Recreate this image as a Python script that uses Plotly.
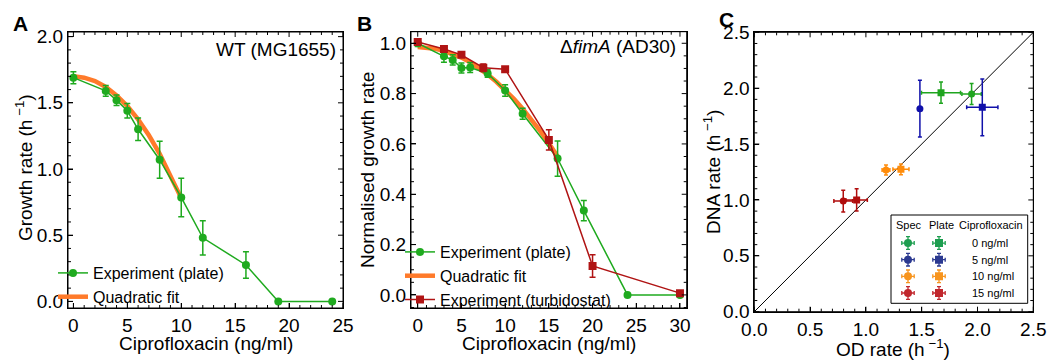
import math
import plotly.graph_objects as go

FONT = "Liberation Sans, Arial, Helvetica, sans-serif"
W, H = 1047, 362

# ---------------- Panel A: WT (MG1655) ----------------
a_conc = [0, 3, 4, 5, 6, 8, 10, 12, 16, 19, 24]
a_rate = [1.69, 1.59, 1.52, 1.44, 1.30, 1.07, 0.785, 0.48, 0.275, 0.0, 0.0]
a_err = [0.045, 0.04, 0.04, 0.055, 0.085, 0.14, 0.145, 0.13, 0.10, 0.0, 0.0]
a_fit_conc = [0, 1, 2, 3, 4, 5, 6, 7, 8, 9, 10]
a_fit_rate = [1.70, 1.69, 1.665, 1.62, 1.555, 1.475, 1.375, 1.255, 1.115, 0.955, 0.78]

# ---------------- Panel B: delta fimA (AD30) ----------------
b_conc = [0, 3, 4, 5, 6, 8, 10, 12, 16, 19, 24, 30]
b_rate = [1.0, 0.948, 0.934, 0.902, 0.904, 0.88, 0.812, 0.72, 0.542, 0.335, 0.0, 0.0]
b_err = [0.013, 0.023, 0.02, 0.02, 0.02, 0.015, 0.023, 0.022, 0.07, 0.04, 0.0, 0.0]
b_fit_conc = [0, 1, 2, 3, 4, 5, 6, 7, 8, 9, 10, 11, 12, 13, 14, 15, 16]
b_fit_rate = [0.985, 0.983, 0.978, 0.970, 0.958, 0.943, 0.924, 0.902, 0.876,
              0.847, 0.815, 0.779, 0.740, 0.698, 0.652, 0.603, 0.550]
b_turb_conc = [0, 3, 5, 7.5, 10, 15, 20, 30]
b_turb_rate = [1.005, 0.977, 0.954, 0.903, 0.897, 0.616, 0.115, 0.007]
b_turb_err = [0.01, 0.01, 0.01, 0.015, 0.01, 0.04, 0.045, 0.005]

# ---------------- Panel C: DNA rate vs OD rate ----------------
c_labels = ["0 ng/ml", "5 ng/ml", "10 ng/ml", "15 ng/ml"]
c_spec_od = [1.947, 1.484, 1.18, 0.797]
c_spec_od_err = [0.087, 0.0, 0.035, 0.084]
c_spec_dna = [1.948, 1.817, 1.268, 0.99]
c_spec_dna_err = [0.093, 0.254, 0.045, 0.097]
c_plate_od = [1.673, 2.043, 1.314, 0.917]
c_plate_od_err = [0.175, 0.14, 0.072, 0.096]
c_plate_dna = [1.96, 1.829, 1.274, 1.0]
c_plate_dna_err = [0.095, 0.254, 0.048, 0.10]
c_diag = [0, 2.5]
legend_cols = ["Spec", "Plate"]

GREEN = "#1faa1f"
ORANGE = "#ff7a2a"
DRED = "#b01414"
c_colors = ["#1fa51f", "#1010aa", "#ff8c0a", "#b00c0c"]
c_leg_colors = ["#1e9e50", "#2b3990", "#f7941d", "#c1272d"]

# axis ranges (shared by the axes and their frame ticks)
A_XR, A_YR = [-0.5, 25], [-0.05, 2.035]
B_XR, B_YR = [-0.77, 30.77], [-0.052, 1.046]
C_XR, C_YR = [0, 2.5], [0, 2.5]
# panel boxes in pixels: left, right, top, bottom
A_BOX = (68, 343, 32, 308)
B_BOX = (411, 686.7, 31.7, 308)
C_BOX = (754.3, 1033.3, 32.3, 311.7)

fig = go.Figure()

# --- A ---
fig.add_trace(go.Scatter(
    x=a_fit_conc, y=a_fit_rate, mode="lines", name="Quadratic fit",
    line=dict(color=ORANGE, width=4.5), xaxis="x", yaxis="y",
    legend="legend", legendrank=2))
fig.add_trace(go.Scatter(
    x=a_conc, y=a_rate, mode="lines+markers", name="Experiment (plate)",
    line=dict(color=GREEN, width=1.5), marker=dict(color=GREEN, size=8),
    error_y=dict(type="data", array=a_err, color=GREEN, thickness=1.5, width=3),
    xaxis="x", yaxis="y", legend="legend", legendrank=1))

# --- B ---
fig.add_trace(go.Scatter(
    x=b_fit_conc, y=b_fit_rate, mode="lines", name="Quadratic fit",
    line=dict(color=ORANGE, width=4.5), xaxis="x2", yaxis="y2",
    legend="legend2", legendrank=2))
fig.add_trace(go.Scatter(
    x=b_conc, y=b_rate, mode="lines+markers", name="Experiment (plate)",
    line=dict(color=GREEN, width=1.5), marker=dict(color=GREEN, size=8),
    error_y=dict(type="data", array=b_err, color=GREEN, thickness=1.5, width=3),
    xaxis="x2", yaxis="y2", legend="legend2", legendrank=1))
fig.add_trace(go.Scatter(
    x=b_turb_conc, y=b_turb_rate, mode="lines+markers", name="Experiment (turbidostat)",
    line=dict(color=DRED, width=1.5), marker=dict(color=DRED, size=8, symbol="square"),
    error_y=dict(type="data", array=b_turb_err, color=DRED, thickness=1.5, width=3),
    xaxis="x2", yaxis="y2", legend="legend2", legendrank=3))

# --- C ---
fig.add_trace(go.Scatter(
    x=c_diag, y=c_diag, mode="lines", line=dict(color="black", width=1),
    xaxis="x3", yaxis="y3", showlegend=False, hoverinfo="skip"))
for i in range(len(c_labels)):
    col = c_colors[i]
    fig.add_trace(go.Scatter(
        x=[c_spec_od[i]], y=[c_spec_dna[i]], mode="markers",
        marker=dict(color=col, size=7, symbol="circle"),
        error_x=dict(type="data", array=[c_spec_od_err[i]], color=col, thickness=1.5, width=2),
        error_y=dict(type="data", array=[c_spec_dna_err[i]], color=col, thickness=1.5, width=2),
        xaxis="x3", yaxis="y3", showlegend=False))
    fig.add_trace(go.Scatter(
        x=[c_plate_od[i]], y=[c_plate_dna[i]], mode="markers",
        marker=dict(color=col, size=7, symbol="square"),
        error_x=dict(type="data", array=[c_plate_od_err[i]], color=col, thickness=1.5, width=2),
        error_y=dict(type="data", array=[c_plate_dna_err[i]], color=col, thickness=1.5, width=2),
        xaxis="x3", yaxis="y3", showlegend=False))

# legend icons of panel C (on their own blank axes: column index x row index)
for i, lab in enumerate(c_labels):
    col = c_leg_colors[i]
    for j, kind in enumerate(legend_cols):
        fig.add_trace(go.Scatter(
            x=[j], y=[i], mode="markers", name=f"{kind} {lab}",
            marker=dict(color=col, size=8, symbol="circle" if j == 0 else "square"),
            error_x=dict(type="constant", value=0.2, color=col, thickness=1.3, width=2),
            error_y=dict(type="constant", value=0.38, color=col, thickness=1.3, width=2),
            xaxis="x4", yaxis="y4", showlegend=False, hoverinfo="skip"))


def px_x(p):
    return p / W


def px_y(p):
    return 1 - p / H


def frame_axis(rng, dtick, **kw):
    d = dict(
        range=rng, dtick=dtick, automargin=False,
        showline=True, linecolor="black", linewidth=1, mirror=True,
        ticks="inside", ticklen=5, tickwidth=1, tickcolor="black",
        showgrid=False, zeroline=False,
        tickfont=dict(size=19, family=FONT, color="black"),
    )
    d.update(kw)
    return d


xa = frame_axis(A_XR, 5, domain=[px_x(A_BOX[0]), px_x(A_BOX[1])], anchor="y")
ya = frame_axis(A_YR, 0.5, domain=[px_y(A_BOX[3]), px_y(A_BOX[2])], anchor="x", tickformat=".1f")
xb = frame_axis(B_XR, 5, domain=[px_x(B_BOX[0]), px_x(B_BOX[1])], anchor="y2")
yb = frame_axis(B_YR, 0.2, domain=[px_y(B_BOX[3]), px_y(B_BOX[2])], anchor="x2", tickformat=".1f")
xc = frame_axis(C_XR, 0.5, domain=[px_x(C_BOX[0]), px_x(C_BOX[1])], anchor="y3", tickformat=".1f")
yc = frame_axis(C_YR, 0.5, domain=[px_y(C_BOX[3]), px_y(C_BOX[2])], anchor="x3", tickformat=".1f")

blank = dict(automargin=False, showline=False, showgrid=False, zeroline=False,
             showticklabels=False, ticks="", fixedrange=True)
xd = dict(domain=[px_x(892.5), px_x(954.5)], anchor="y4", range=[-0.5, 1.5], **blank)
yd = dict(domain=[px_y(301.3), px_y(234.7)], anchor="x4", range=[3.5, -0.5], **blank)

leg_common = dict(bgcolor="rgba(0,0,0,0)", borderwidth=0,
                  font=dict(size=16, family=FONT, color="black"),
                  tracegroupgap=0, itemwidth=30, xanchor="left", yanchor="bottom")


def note(text, x, y, size, xanchor="center", angle=0):
    return dict(text=text, x=px_x(x), y=px_y(y), xref="paper", yref="paper",
                xanchor=xanchor, yanchor="middle", showarrow=False, textangle=angle,
                font=dict(size=size, family=FONT, color="black"))


annotations = [
    note("<b>A</b>", 20, 23, 21),
    note("<b>B</b>", 364, 23, 21),
    note("<b>C</b>", 726, 19, 21),
    note("WT (MG1655)", 338, 49, 19, "right"),
    note("Δ<i>fimA</i> (AD30)", 678, 46, 19, "right"),
    # axis titles
    note("Ciprofloxacin (ng/ml)", 205.5, 343, 19),
    note("Ciprofloxacin (ng/ml)", 549, 343, 19),
    note("OD rate (h<sup> −1</sup>)", 893, 348, 19),
    note("Growth rate (h<sup> −1</sup>)", 24, 168, 19, angle=-90),
    note("Normalised growth rate", 367, 170, 19, angle=-90),
    note("DNA rate (h<sup> −1</sup>)", 712, 172, 19, angle=-90),
    # key of panel C
    note("Spec", 909, 225, 11),
    note("Plate", 941, 225, 11),
    note("Ciprofloxacin", 991, 225, 11),
]
for i, lab in enumerate(c_labels):
    annotations.append(note(lab, 970, 243 + i * 16.67, 11, "left"))


def seg(x0, y0, x1, y1):
    return dict(type="line", xref="paper", yref="paper", layer="above",
                x0=px_x(x0), y0=px_y(y0), x1=px_x(x1), y1=px_y(y1),
                line=dict(color="black", width=1))


def tick_values(rng, minor, major):
    out = []
    for k in range(math.ceil(rng[0] / minor - 1e-9), math.floor(rng[1] / minor + 1e-9) + 1):
        v = k * minor
        is_major = abs(v / major - round(v / major)) < 1e-6
        out.append((v, is_major))
    return out


def frame(box, xr, yr, xmaj, xmin, ymaj, ymin):
    left, right, top, bottom = box
    out = [dict(type="rect", xref="paper", yref="paper", layer="above",
                x0=px_x(left), x1=px_x(right), y0=px_y(bottom), y1=px_y(top),
                line=dict(color="black", width=1), fillcolor="rgba(0,0,0,0)")]
    for v, major in tick_values(xr, xmin, xmaj):
        L = 5 if major else 3
        p = left + (v - xr[0]) / (xr[1] - xr[0]) * (right - left)
        out.append(seg(p, bottom, p, bottom - L))
        out.append(seg(p, top, p, top + L))
    for v, major in tick_values(yr, ymin, ymaj):
        L = 5 if major else 3
        p = bottom - (v - yr[0]) / (yr[1] - yr[0]) * (bottom - top)
        out.append(seg(left, p, left + L, p))
        out.append(seg(right, p, right - L, p))
    return out


shapes = []
shapes += frame(A_BOX, A_XR, A_YR, 5, 1, 0.5, 0.1)
shapes += frame(B_BOX, B_XR, B_YR, 5, 1, 0.2, 0.05)
shapes += frame(C_BOX, C_XR, C_YR, 0.5, 0.1, 0.5, 0.1)
shapes.append(dict(type="rect", xref="paper", yref="paper",
                   x0=px_x(891), x1=px_x(1027.7), y0=px_y(303.3), y1=px_y(215),
                   line=dict(color="black", width=1), fillcolor="rgba(0,0,0,0)",
                   layer="above"))

fig.update_layout(
    template="none",
    width=W, height=H,
    margin=dict(l=0, r=0, t=0, b=0, autoexpand=False),
    paper_bgcolor="white", plot_bgcolor="white",
    font=dict(family=FONT, color="black"),
    xaxis=xa, yaxis=ya, xaxis2=xb, yaxis2=yb, xaxis3=xc, yaxis3=yc,
    xaxis4=xd, yaxis4=yd,
    legend=dict(x=px_x(53), y=px_y(314), **leg_common),
    legend2=dict(x=px_x(400), y=px_y(317), **leg_common),
    annotations=annotations, shapes=shapes,
)

fig.write_html("out.html")
